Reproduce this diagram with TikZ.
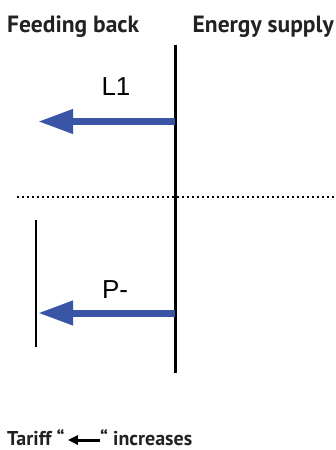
\documentclass[tikz,border=0pt]{standalone}
\usepackage{fontspec}
\setmainfont{PT Sans}
\newfontfamily\lblfont{Liberation Sans}
\usetikzlibrary{arrows.meta}
\definecolor{arrowblue}{HTML}{3A55A5}
\definecolor{txtgray}{HTML}{222222}
\tikzset{
  header/.style={font=\bfseries\fontsize{23.5}{26}\selectfont, text=txtgray, inner sep=0pt},
  foot/.style={font=\bfseries\fontsize{20}{24}\selectfont, text=txtgray, inner sep=0pt},
  lbl/.style={font=\lblfont\fontsize{26}{30}\selectfont, inner sep=0pt},
  bluearrow/.style={draw=arrowblue, line width=7pt, -{Triangle[length=35pt, width=23pt]}},
  axis/.style={line width=3pt},
}
\begin{document}
\begin{tikzpicture}[x=1pt, y=-1pt]
\useasboundingbox (0,0) rectangle (336,450);
\node[header, anchor=base west] (fb) at (7,32) {Feeding back};
\node[header, anchor=base east] (es) at (334,32) {Energy supply};
\coordinate (vtop) at (175,45);
\coordinate (vbot) at (175,373);
\draw[axis] (vtop) -- (vbot);
\coordinate (dl) at (17,197);
\coordinate (dr) at (336,197);
\draw[line width=2pt, dash pattern=on 2pt off 3pt] (dl) -- (dr);
\coordinate (tl) at (36,220);
\coordinate (bl) at (36,347);
\draw[line width=1.5pt] (tl) -- (bl);
\node[lbl] (l1) at (116,87) {L1};
\node[lbl] (pm) at (115,290) {P-};
\coordinate (a1s) at (175,121.5);
\coordinate (a1e) at (38,121.5);
\draw[bluearrow] (a1s) -- (a1e);
\coordinate (a2s) at (175,313);
\coordinate (a2e) at (38,313);
\draw[bluearrow] (a2s) -- (a2e);
\node[foot, anchor=base west] (t1) at (7,445) {Tariff “};
\node[foot, anchor=base west] (t2) at (100,445) {“ increases};
\draw[line width=3pt, -{Triangle[length=10pt, width=9pt]}] ([xshift=0pt,yshift=5pt]t2.base west) -- ([xshift=3pt,yshift=5pt]t1.base east);
\end{tikzpicture}
\end{document}
